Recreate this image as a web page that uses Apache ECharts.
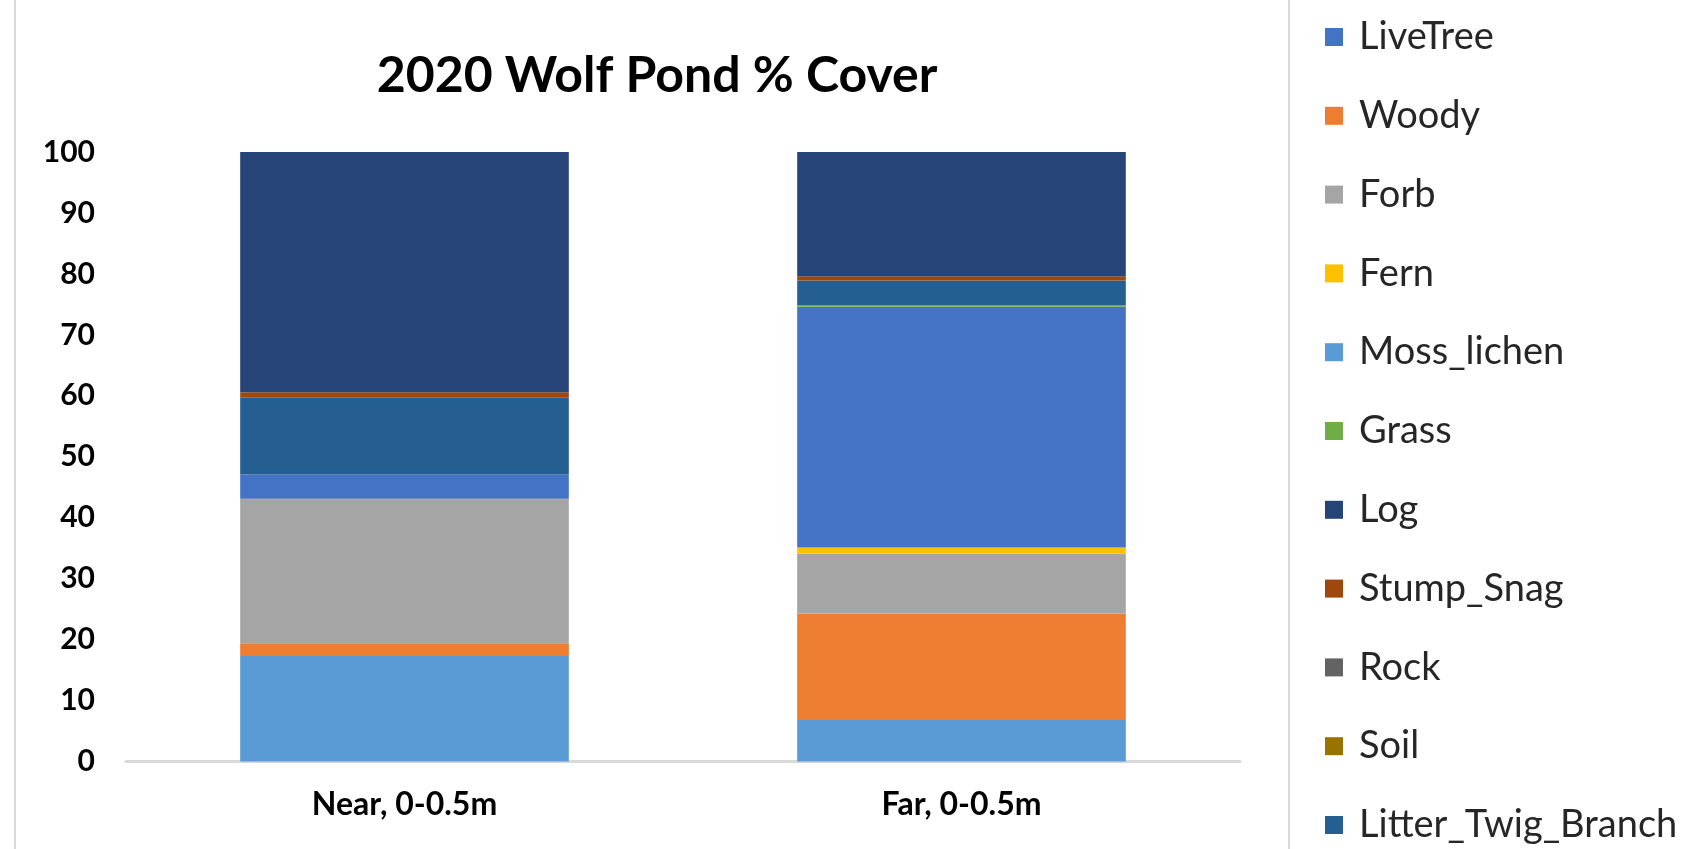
<!DOCTYPE html>
<html>
<head>
<meta charset="utf-8">
<title>2020 Wolf Pond % Cover</title>
<script src="https://cdn.jsdelivr.net/npm/echarts@6/dist/echarts.min.js"></script>
<style>
  html, body { margin: 0; padding: 0; background: #ffffff; }
  #chart { width: 1703px; height: 849px; }
</style>
</head>
<body>
<div id="chart"></div>
<script>
// Plot categories (sampling zones)
const categories = ['Near, 0-0.5m', 'Far, 0-0.5m'];

// Percent cover per class, [Near, Far]
const mossLichen = [17.3, 6.8];
const woody = [2.1, 17.5];
const forb = [23.7, 9.8];
const fern = [0, 1.0];
const liveTree = [4.0, 39.5];
const grass = [0, 0.3];
const rock = [0, 0];
const soil = [0, 0];
const litterTwigBranch = [12.6, 4.0];
const stumpSnag = [0.9, 0.7];
const log = [39.4, 20.4];

// Y axis range and step
const yMin = 0;
const yMax = 100;
const yStep = 10;

// Legend listing order
const legendOrder = ['LiveTree', 'Woody', 'Forb', 'Fern', 'Moss_lichen', 'Grass', 'Log',
  'Stump_Snag', 'Rock', 'Soil', 'Litter_Twig_Branch'];

// Stack order, bottom to top, with Office-style colours
const stackSeries = [
  { name: 'Moss_lichen', data: mossLichen, color: '#5B9BD5' },
  { name: 'Woody', data: woody, color: '#ED7D31' },
  { name: 'Forb', data: forb, color: '#A5A5A5' },
  { name: 'Fern', data: fern, color: '#FFC000' },
  { name: 'LiveTree', data: liveTree, color: '#4472C4' },
  { name: 'Grass', data: grass, color: '#70AD47' },
  { name: 'Rock', data: rock, color: '#636363' },
  { name: 'Soil', data: soil, color: '#997300' },
  { name: 'Litter_Twig_Branch', data: litterTwigBranch, color: '#255E91' },
  { name: 'Stump_Snag', data: stumpSnag, color: '#9E480E' },
  { name: 'Log', data: log, color: '#264478' }
];

const FONT = 'Lato, "Open Sans", sans-serif';

const chart = echarts.init(document.getElementById('chart'), null, { renderer: 'canvas' });

chart.setOption({
  backgroundColor: '#ffffff',
  animation: false,
  title: {
    text: '2020 Wolf Pond % Cover',
    left: 652,
    top: 46,
    textAlign: 'center',
    textStyle: { fontFamily: FONT, fontWeight: 'bold', fontSize: 50, color: '#000000' }
  },
  legend: {
    orient: 'vertical',
    left: 1320,
    top: 11,
    height: 840,
    itemWidth: 18,
    itemHeight: 18,
    itemGap: 36.8,
    icon: 'rect',
    data: legendOrder,
    textStyle: {
      fontFamily: FONT, fontSize: 38, color: '#262626',
      lineHeight: 42, padding: [0, 0, 0, 11]
    }
  },
  grid: { left: 126, right: 463, top: 152, bottom: 87.5, containLabel: false },
  xAxis: {
    type: 'category',
    data: categories,
    axisLine: { show: true, lineStyle: { color: '#d9d9d9', width: 3 } },
    axisTick: { show: false },
    axisLabel: {
      margin: 27,
      fontFamily: FONT, fontWeight: 'bold', fontSize: 32, color: '#000000'
    }
  },
  yAxis: {
    type: 'value',
    min: yMin,
    max: yMax,
    interval: yStep,
    axisLine: { show: false },
    axisTick: { show: false },
    splitLine: { show: false },
    axisLabel: {
      margin: 31,
      fontFamily: FONT, fontWeight: 'bold', fontSize: 30, color: '#000000'
    }
  },
  series: stackSeries.map(s => ({
    name: s.name,
    type: 'bar',
    stack: 'cover',
    data: s.data,
    barCategoryGap: '41%',
    itemStyle: { color: s.color },
    emphasis: { disabled: true }
  })),
  graphic: [
    { type: 'line', shape: { x1: 15, y1: 0, x2: 15, y2: 849 }, style: { stroke: '#d9d9d9', lineWidth: 2 }, silent: true },
    { type: 'line', shape: { x1: 1289, y1: 0, x2: 1289, y2: 849 }, style: { stroke: '#d9d9d9', lineWidth: 2 }, silent: true }
  ]
});
</script>
</body>
</html>
